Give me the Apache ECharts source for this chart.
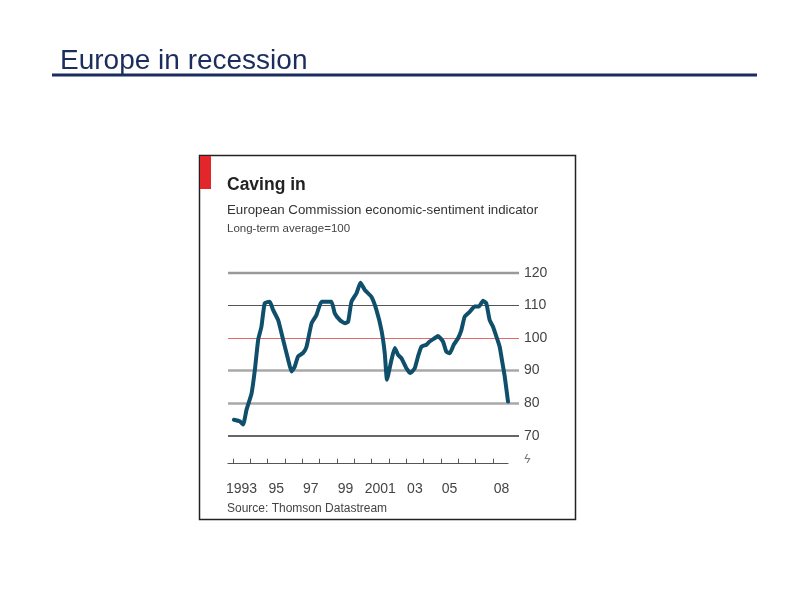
<!DOCTYPE html>
<html>
<head>
<meta charset="utf-8">
<script src="https://cdn.jsdelivr.net/npm/echarts@6/dist/echarts.min.js"></script>
<style>
html,body{margin:0;padding:0;background:#fff;}
#chart{width:792px;height:594px;}
</style>
</head>
<body>
<div id="chart"></div>
<script>
// ---- data ----
var years = [1993.06,1993.40,1993.59,1993.79,1994.08,1994.27,1994.46,1994.65,1994.84,1995.13,1995.32,1995.61,1995.90,1996.19,1996.38,1996.57,1996.76,1997.05,1997.25,1997.54,1997.82,1998.11,1998.40,1998.69,1998.88,1999.17,1999.46,1999.65,1999.84,2000.13,2000.36,2000.61,2000.99,2001.28,2001.57,2001.76,2001.89,2002.15,2002.34,2002.53,2002.72,2003.01,2003.24,2003.49,2003.68,2003.88,2004.16,2004.35,2004.64,2004.83,2005.12,2005.31,2005.51,2005.74,2005.99,2006.18,2006.37,2006.66,2006.95,2007.19,2007.43,2007.62,2007.81,2008.00,2008.20,2008.39,2008.55,2008.68,2008.87];
var esi = [74.9,74.4,73.4,78.0,83.0,90.2,99.4,103.5,110.7,111.1,108.6,105.5,99.4,93.3,89.7,91.2,94.3,95.4,97.3,104.5,107.0,111.1,111.1,111.1,107.5,105.5,104.5,105.0,111.1,113.7,116.9,114.7,112.6,108.6,102.4,95.4,87.2,93.3,96.9,94.8,93.8,90.7,89.2,90.7,94.3,97.3,97.9,98.9,99.9,100.6,98.9,95.8,95.3,97.9,99.9,102.4,106.5,108.0,109.6,109.6,111.4,110.6,105.5,103.5,100.4,97.3,92.3,88.2,80.5];
var tickYears = [1993,1994,1995,1996,1997,1998,1999,2000,2001,2002,2003,2004,2005,2006,2007,2008];
var labelYears = [1993,1995,1997,1999,2001,2003,2005,2008];
var labelTexts = ['1993','95','97','99','2001','03','05','08'];
var gridValues = [70,80,90,100,110,120];
var yLabels = ['70','80','90','100','110','120'];

var FONT = '"Liberation Sans", Arial, sans-serif';
var points = years.map(function (y, i) { return [y, esi[i]]; });
var labelPos = labelYears.map(function (y) { return y + 0.5; });

function gridStyle(v) {
  if (v === 100) return { color: '#e46a6a', width: 1.2, type: 'solid' };
  if (v === 110) return { color: '#555', width: 1.2, type: 'solid' };
  if (v === 70) return { color: '#666', width: 2, type: 'solid' };
  if (v === 120) return { color: '#9a9a9a', width: 2.4, type: 'solid' };
  return { color: '#a8a8a8', width: 2.6, type: 'solid' };
}

var chart = echarts.init(document.getElementById('chart'), null, { renderer: 'canvas' });
chart.setOption({
  animation: false,
  backgroundColor: '#fff',
  grid: [
    { left: 228, top: 272.7, width: 280, height: 163 },
    { left: 228, top: 272.7, width: 291, height: 163 }
  ],
  xAxis: [
    {
      type: 'value', gridIndex: 0, min: 1992.72, max: 2008.87,
      offset: 28,
      splitLine: { show: false },
      axisLine: { show: true, lineStyle: { color: '#555', width: 1.2 } },
      axisTick: { show: true, inside: true, length: 5, lineStyle: { color: '#555', width: 1 }, customValues: tickYears },
      axisLabel: {
        show: true, margin: 18, fontSize: 14, color: '#444', fontFamily: FONT,
        customValues: labelPos,
        formatter: function (v) {
          for (var i = 0; i < labelPos.length; i++) {
            if (Math.abs(labelPos[i] - v) < 1e-6) return labelTexts[i];
          }
          return '';
        }
      }
    },
    {
      type: 'value', gridIndex: 1, min: 0, max: 1, show: false
    }
  ],
  yAxis: [
    { type: 'value', gridIndex: 0, min: 70, max: 120, show: false, splitLine: { show: false } },
    {
      type: 'value', gridIndex: 1, min: 70, max: 120, interval: 10, position: 'right',
      splitLine: { show: false }, axisLine: { show: false }, axisTick: { show: false },
      axisLabel: {
        margin: 5, fontSize: 14, color: '#444', fontFamily: FONT,
        formatter: function (v) {
          var i = gridValues.indexOf(v);
          return i >= 0 ? yLabels[i] : '';
        }
      }
    }
  ],
  series: [
    {
      type: 'line', xAxisIndex: 1, yAxisIndex: 1, z: 1,
      data: [[0, 70], [1, 70]], symbol: 'none', silent: true,
      lineStyle: { opacity: 0 },
      markLine: {
        silent: true, symbol: 'none', label: { show: false },
        data: gridValues.map(function (v) { return { yAxis: v, lineStyle: gridStyle(v) }; })
      }
    },
    {
      type: 'line', xAxisIndex: 0, yAxisIndex: 0, z: 5,
      data: points, symbol: 'none', smooth: 0.15,
      lineStyle: { color: '#0f4f6b', width: 4, cap: 'round', join: 'round' }
    }
  ],
  graphic: [
    { type: 'text', left: 60, top: 47, style: { text: 'Europe in recession', font: '28px ' + FONT, fill: '#1b2d5e' } },
    { type: 'line', shape: { x1: 52, y1: 75, x2: 757, y2: 75 }, style: { stroke: '#1b2d5e', lineWidth: 3 } },
    { type: 'rect', shape: { x: 199.5, y: 155.5, width: 376, height: 364 }, style: { fill: 'none', stroke: '#222', lineWidth: 1.5 } },
    { type: 'rect', shape: { x: 200, y: 156, width: 11, height: 33 }, style: { fill: '#e3262a' } },
    { type: 'text', x: 227, y: 185, style: { text: 'Caving in', font: 'bold 17.5px ' + FONT, fill: '#222', textVerticalAlign: 'middle' } },
    { type: 'text', x: 227, y: 210.5, style: { text: 'European Commission economic-sentiment indicator', font: '13.3px ' + FONT, fill: '#333', textVerticalAlign: 'middle' } },
    { type: 'text', x: 227, y: 229, style: { text: 'Long-term average=100', font: '11.5px ' + FONT, fill: '#444', textVerticalAlign: 'middle' } },
    { type: 'text', x: 227, y: 508.5, style: { text: 'Source: Thomson Datastream', font: '12px ' + FONT, fill: '#444', textVerticalAlign: 'middle' } },
    { type: 'text', x: 524, y: 460, style: { text: 'ϟ', font: 'italic 12px ' + FONT, fill: '#777', textVerticalAlign: 'middle' } }
  ]
});
</script>
</body>
</html>
